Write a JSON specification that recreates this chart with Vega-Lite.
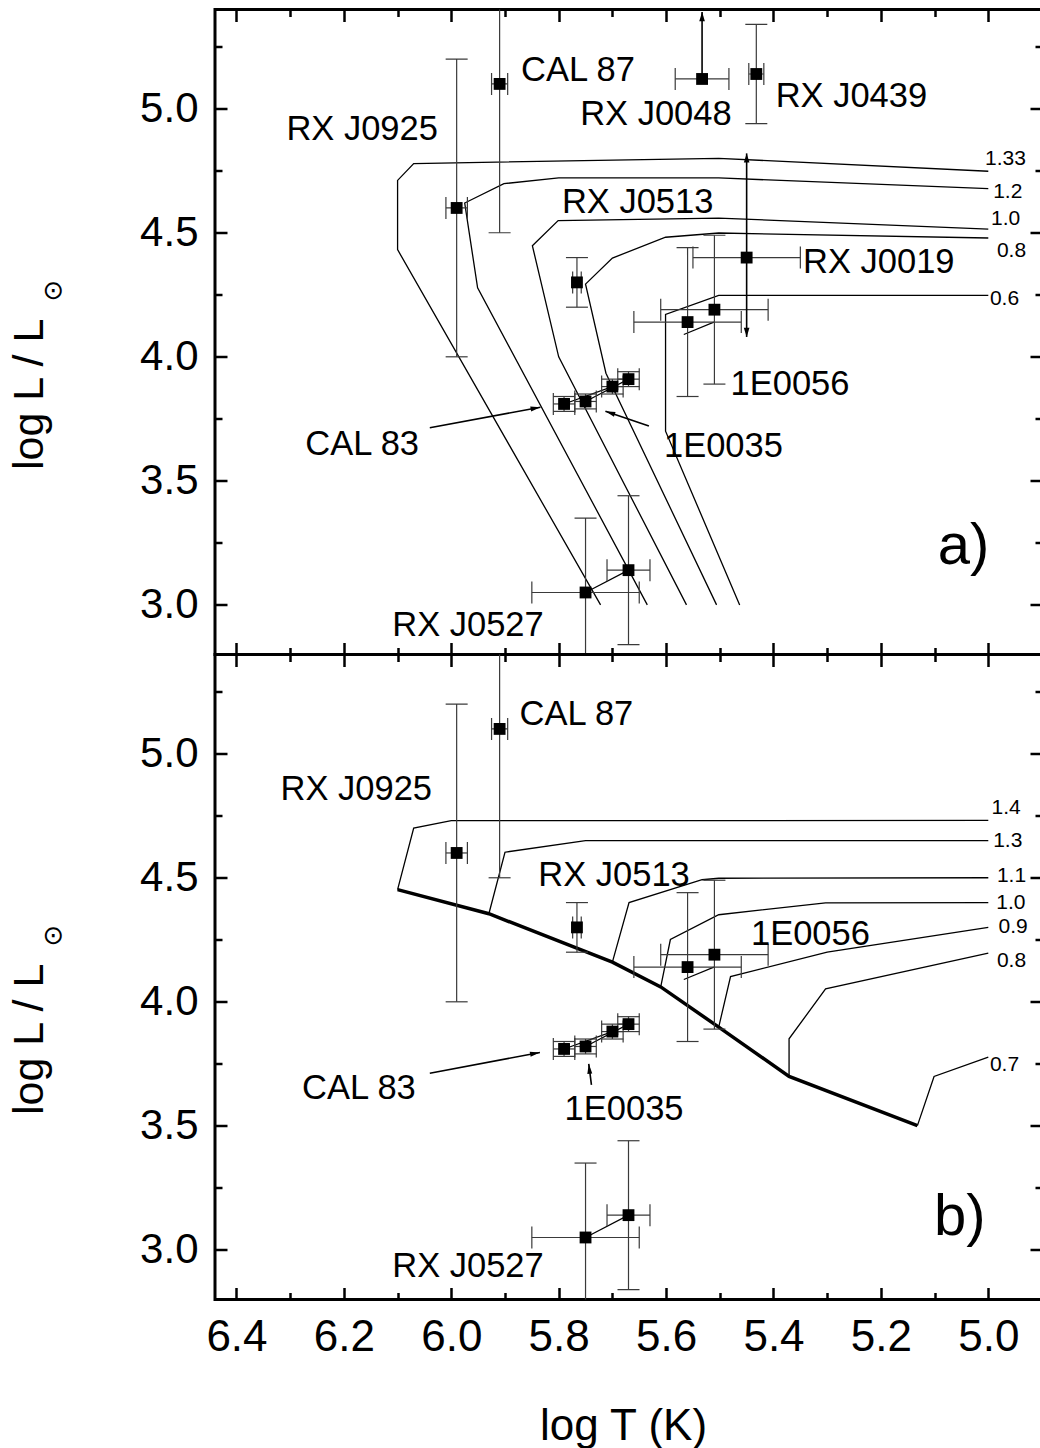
{
  "$schema": "https://vega.github.io/schema/vega-lite/v6.json",
  "autosize": {"type": "pad"},
  "padding": {"left": 6, "top": 6.5, "right": 0, "bottom": 0},
  "background": "white",
  "bounds": "flush",
  "spacing": 0,
  "config": {
    "font": "Liberation Sans",
    "view": {"stroke": "black", "strokeWidth": 3},
    "axis": {
      "domain": false, "grid": false, "tickColor": "black", "tickWidth": 2.5, "tickSize": 0,
      "labelFont": "Liberation Sans", "titleFont": "Liberation Sans", "labelColor": "black", "titleColor": "black",
      "titleFontWeight": "normal", "labelFlush": false, "labelOverlap": false, "labelBound": false
    }
  },
  "datasets": {
    "tracks": [
      {"panel":"a","track":"1.33","T":5.722,"L":3.0},{"panel":"a","track":"1.33","T":6.10,"L":4.432},{"panel":"a","track":"1.33","T":6.10,"L":4.711},{"panel":"a","track":"1.33","T":6.07,"L":4.779},{"panel":"a","track":"1.33","T":5.502,"L":4.80},{"panel":"a","track":"1.33","T":5.0,"L":4.748},
      {"panel":"a","track":"1.2","T":5.635,"L":3.0},{"panel":"a","track":"1.2","T":5.951,"L":4.278},{"panel":"a","track":"1.2","T":5.975,"L":4.62},{"panel":"a","track":"1.2","T":5.902,"L":4.698},{"panel":"a","track":"1.2","T":5.80,"L":4.721},{"panel":"a","track":"1.2","T":5.502,"L":4.721},{"panel":"a","track":"1.2","T":5.0,"L":4.678},
      {"panel":"a","track":"1.0","T":5.562,"L":3.0},{"panel":"a","track":"1.0","T":5.80,"L":4.0},{"panel":"a","track":"1.0","T":5.849,"L":4.448},{"panel":"a","track":"1.0","T":5.801,"L":4.549},{"panel":"a","track":"1.0","T":5.502,"L":4.559},{"panel":"a","track":"1.0","T":5.0,"L":4.515},
      {"panel":"a","track":"0.8","T":5.506,"L":3.0},{"panel":"a","track":"0.8","T":5.712,"L":3.934},{"panel":"a","track":"0.8","T":5.75,"L":4.293},{"panel":"a","track":"0.8","T":5.70,"L":4.398},{"panel":"a","track":"0.8","T":5.601,"L":4.482},{"panel":"a","track":"0.8","T":5.502,"L":4.499},{"panel":"a","track":"0.8","T":5.0,"L":4.479},
      {"panel":"a","track":"0.6","T":5.463,"L":3.0},{"panel":"a","track":"0.6","T":5.601,"L":3.70},{"panel":"a","track":"0.6","T":5.601,"L":4.171},{"panel":"a","track":"0.6","T":5.502,"L":4.248},{"panel":"a","track":"0.6","T":5.0,"L":4.248},
      {"panel":"b","track":"1.4","T":6.10,"L":4.452},{"panel":"b","track":"1.4","T":6.07,"L":4.70},{"panel":"b","track":"1.4","T":6.0,"L":4.73},{"panel":"b","track":"1.4","T":5.0,"L":4.731},
      {"panel":"b","track":"1.3","T":5.93,"L":4.355},{"panel":"b","track":"1.3","T":5.90,"L":4.603},{"panel":"b","track":"1.3","T":5.75,"L":4.65},{"panel":"b","track":"1.3","T":5.0,"L":4.65},
      {"panel":"b","track":"1.1","T":5.70,"L":4.16},{"panel":"b","track":"1.1","T":5.669,"L":4.40},{"panel":"b","track":"1.1","T":5.533,"L":4.492},{"panel":"b","track":"1.1","T":5.502,"L":4.498},{"panel":"b","track":"1.1","T":5.0,"L":4.50},
      {"panel":"b","track":"1.0","T":5.61,"L":4.06},{"panel":"b","track":"1.0","T":5.592,"L":4.251},{"panel":"b","track":"1.0","T":5.502,"L":4.351},{"panel":"b","track":"1.0","T":5.303,"L":4.399},{"panel":"b","track":"1.0","T":5.0,"L":4.40},
      {"panel":"b","track":"0.9","T":5.502,"L":3.898},{"panel":"b","track":"0.9","T":5.48,"L":4.102},{"panel":"b","track":"0.9","T":5.30,"L":4.20},{"panel":"b","track":"0.9","T":5.0,"L":4.30},
      {"panel":"b","track":"0.8","T":5.371,"L":3.699},{"panel":"b","track":"0.8","T":5.371,"L":3.851},{"panel":"b","track":"0.8","T":5.303,"L":4.052},{"panel":"b","track":"0.8","T":5.0,"L":4.196},
      {"panel":"b","track":"0.7","T":5.132,"L":3.501},{"panel":"b","track":"0.7","T":5.101,"L":3.699},{"panel":"b","track":"0.7","T":5.0,"L":3.777}
    ],
    "zams": [
      {"panel":"b","T":6.10,"L":4.452},{"panel":"b","T":5.93,"L":4.355},{"panel":"b","T":5.70,"L":4.16},{"panel":"b","T":5.61,"L":4.06},{"panel":"b","T":5.502,"L":3.898},{"panel":"b","T":5.371,"L":3.699},{"panel":"b","T":5.132,"L":3.501}
    ],
    "links": [
      {"panel":"a","id":"e56","T":5.567,"L":4.09},{"panel":"a","id":"e56","T":5.511,"L":4.14},
      {"panel":"a","id":"c83","T":5.79,"L":3.81},{"panel":"a","id":"c83","T":5.70,"L":3.88},
      {"panel":"a","id":"e35","T":5.75,"L":3.82},{"panel":"a","id":"e35","T":5.67,"L":3.91},
      {"panel":"a","id":"r527","T":5.75,"L":3.05},{"panel":"a","id":"r527","T":5.67,"L":3.14},
      {"panel":"b","id":"e56","T":5.567,"L":4.09},{"panel":"b","id":"e56","T":5.511,"L":4.14},
      {"panel":"b","id":"c83","T":5.79,"L":3.81},{"panel":"b","id":"c83","T":5.70,"L":3.88},
      {"panel":"b","id":"e35","T":5.75,"L":3.82},{"panel":"b","id":"e35","T":5.67,"L":3.91},
      {"panel":"b","id":"r527","T":5.75,"L":3.05},{"panel":"b","id":"r527","T":5.67,"L":3.14}
    ],
    "pts": [
      {"panel":"a","name":"CAL 87","T":5.91,"L":5.1,"Tlo":5.925,"Thi":5.895,"Llo":4.5,"Lhi":5.7},
      {"panel":"a","name":"RX J0925","T":5.99,"L":4.6,"Tlo":6.01,"Thi":5.97,"Llo":4.0,"Lhi":5.2},
      {"panel":"a","name":"RX J0048","T":5.533,"L":5.12,"Tlo":5.583,"Thi":5.483,"Llo":null,"Lhi":null},
      {"panel":"a","name":"RX J0439","T":5.432,"L":5.14,"Tlo":5.446,"Thi":5.418,"Llo":4.94,"Lhi":5.34},
      {"panel":"a","name":"RX J0019","T":5.45,"L":4.4,"Tlo":5.55,"Thi":5.35,"Llo":null,"Lhi":null},
      {"panel":"a","name":"1E0056","T":5.51,"L":4.19,"Tlo":5.61,"Thi":5.41,"Llo":3.89,"Lhi":4.49},
      {"panel":"a","name":"1E0056","T":5.56,"L":4.14,"Tlo":5.66,"Thi":5.46,"Llo":3.84,"Lhi":4.44},
      {"panel":"a","name":"RX J0513","T":5.766,"L":4.3,"Tlo":5.774,"Thi":5.758,"Llo":4.2,"Lhi":4.4},
      {"panel":"a","name":"CAL 83","T":5.79,"L":3.81,"Tlo":5.81,"Thi":5.77,"Llo":3.78,"Lhi":3.84},
      {"panel":"a","name":"1E0035","T":5.75,"L":3.82,"Tlo":5.77,"Thi":5.73,"Llo":3.79,"Lhi":3.85},
      {"panel":"a","name":"CAL 83","T":5.70,"L":3.88,"Tlo":5.72,"Thi":5.68,"Llo":3.85,"Lhi":3.91},
      {"panel":"a","name":"1E0035","T":5.67,"L":3.91,"Tlo":5.69,"Thi":5.65,"Llo":3.88,"Lhi":3.94},
      {"panel":"a","name":"RX J0527","T":5.75,"L":3.05,"Tlo":5.85,"Thi":5.65,"Llo":2.75,"Lhi":3.35},
      {"panel":"a","name":"RX J0527","T":5.67,"L":3.14,"Tlo":5.71,"Thi":5.63,"Llo":2.84,"Lhi":3.44},
      {"panel":"b","name":"CAL 87","T":5.91,"L":5.1,"Tlo":5.925,"Thi":5.895,"Llo":4.5,"Lhi":5.7},
      {"panel":"b","name":"RX J0925","T":5.99,"L":4.6,"Tlo":6.01,"Thi":5.97,"Llo":4.0,"Lhi":5.2},
      {"panel":"b","name":"1E0056","T":5.51,"L":4.19,"Tlo":5.61,"Thi":5.41,"Llo":3.89,"Lhi":4.49},
      {"panel":"b","name":"1E0056","T":5.56,"L":4.14,"Tlo":5.66,"Thi":5.46,"Llo":3.84,"Lhi":4.44},
      {"panel":"b","name":"RX J0513","T":5.766,"L":4.3,"Tlo":5.774,"Thi":5.758,"Llo":4.2,"Lhi":4.4},
      {"panel":"b","name":"CAL 83","T":5.79,"L":3.81,"Tlo":5.81,"Thi":5.77,"Llo":3.78,"Lhi":3.84},
      {"panel":"b","name":"1E0035","T":5.75,"L":3.82,"Tlo":5.77,"Thi":5.73,"Llo":3.79,"Lhi":3.85},
      {"panel":"b","name":"CAL 83","T":5.70,"L":3.88,"Tlo":5.72,"Thi":5.68,"Llo":3.85,"Lhi":3.91},
      {"panel":"b","name":"1E0035","T":5.67,"L":3.91,"Tlo":5.69,"Thi":5.65,"Llo":3.88,"Lhi":3.94},
      {"panel":"b","name":"RX J0527","T":5.75,"L":3.05,"Tlo":5.85,"Thi":5.65,"Llo":2.75,"Lhi":3.35},
      {"panel":"b","name":"RX J0527","T":5.67,"L":3.14,"Tlo":5.71,"Thi":5.63,"Llo":2.84,"Lhi":3.44}
    ],
    "arrows": [
      {"panel":"a","T1":5.533,"L1":5.12,"T2":5.533,"L2":5.39},
      {"panel":"a","T1":5.45,"L1":4.08,"T2":5.45,"L2":4.82},
      {"panel":"a","T1":6.04,"L1":3.714,"T2":5.834,"L2":3.797},
      {"panel":"a","T1":5.632,"L1":3.721,"T2":5.713,"L2":3.781},
      {"panel":"b","T1":6.04,"L1":3.712,"T2":5.835,"L2":3.796},
      {"panel":"b","T1":5.739,"L1":3.665,"T2":5.744,"L2":3.75}
    ],
    "heads": [
      {"panel":"a","dir":"up","T":5.533,"L":5.39},
      {"panel":"a","dir":"up","T":5.45,"L":4.82},
      {"panel":"a","dir":"down","T":5.45,"L":4.08},
      {"panel":"a","dir":"cal83","T":5.834,"L":3.797},
      {"panel":"b","dir":"cal83","T":5.835,"L":3.796},
      {"panel":"a","dir":"e35a","T":5.713,"L":3.781},
      {"panel":"b","dir":"e35b","T":5.744,"L":3.75}
    ],
    "names": [
      {"panel":"a","text":"CAL 87","T":5.870,"L":5.110},
      {"panel":"a","text":"RX J0048","T":5.760,"L":4.933},
      {"panel":"a","text":"RX J0439","T":5.396,"L":5.005},
      {"panel":"a","text":"RX J0925","T":6.307,"L":4.875},
      {"panel":"a","text":"RX J0513","T":5.794,"L":4.580},
      {"panel":"a","text":"RX J0019","T":5.345,"L":4.338},
      {"panel":"a","text":"1E0056","T":5.480,"L":3.846},
      {"panel":"a","text":"1E0035","T":5.604,"L":3.596},
      {"panel":"a","text":"CAL 83","T":6.272,"L":3.604},
      {"panel":"a","text":"RX J0527","T":6.110,"L":2.875},
      {"panel":"b","text":"CAL 87","T":5.873,"L":5.114},
      {"panel":"b","text":"RX J0925","T":6.318,"L":4.812},
      {"panel":"b","text":"RX J0513","T":5.838,"L":4.465},
      {"panel":"b","text":"1E0056","T":5.442,"L":4.231},
      {"panel":"b","text":"CAL 83","T":6.278,"L":3.609},
      {"panel":"b","text":"1E0035","T":5.789,"L":3.524},
      {"panel":"b","text":"RX J0527","T":6.110,"L":2.889}
    ],
    "mass": [
      {"panel":"a","text":"1.33","T":5.006,"L":4.796},
      {"panel":"a","text":"1.2","T":4.991,"L":4.663},
      {"panel":"a","text":"1.0","T":4.995,"L":4.556},
      {"panel":"a","text":"0.8","T":4.984,"L":4.427},
      {"panel":"a","text":"0.6","T":4.997,"L":4.234},
      {"panel":"b","text":"1.4","T":4.994,"L":4.783},
      {"panel":"b","text":"1.3","T":4.991,"L":4.647},
      {"panel":"b","text":"1.1","T":4.984,"L":4.506},
      {"panel":"b","text":"1.0","T":4.985,"L":4.398},
      {"panel":"b","text":"0.9","T":4.981,"L":4.30},
      {"panel":"b","text":"0.8","T":4.984,"L":4.163},
      {"panel":"b","text":"0.7","T":4.997,"L":3.746}
    ],
    "letters": [
      {"panel":"a","text":"a)","T":5.094,"L":3.164},
      {"panel":"b","text":"b)","T":5.101,"L":3.058}
    ]
  },
  "vconcat": [
    {
      "width": 827, "height": 645,
      "resolve": {"axis": {"x": "independent", "y": "independent"}},
      "layer": [
        {
          "data": {"name": "tracks"}, "transform": [{"filter": "datum.panel=='a'"}],
          "mark": {"type": "line", "color": "black", "strokeWidth": 1.3},
          "encoding": {
            "x": {"field": "T", "type": "quantitative", "scale": {"domain": [4.9, 6.44], "reverse": true, "nice": false, "zero": false},
              "axis": {"orient": "bottom", "values": [4.9,5,5.1,5.2,5.3,5.4,5.5,5.6,5.7,5.8,5.9,6,6.1,6.2,6.3,6.4], "labels": false, "title": null,
                "encoding": {"ticks": {"y2": {"condition": {"test": "abs(datum.value*5-round(datum.value*5))<0.01", "value": -12}, "value": -7}}}}},
            "y": {"field": "L", "type": "quantitative", "scale": {"domain": [2.8, 5.4], "nice": false, "zero": false},
              "axis": {"orient": "left", "values": [3,3.25,3.5,3.75,4,4.25,4.5,4.75,5,5.25],
                "labelExpr": "abs(datum.value*2-round(datum.value*2))<0.01 ? format(datum.value,'.1f') : ''",
                "labelFontSize": 42, "labelPadding": 17,
                "title": "log L / L", "titleFontSize": 43, "titleAngle": 270, "titleAlign": "left", "titleBaseline": "alphabetic", "titleX": -173, "titleY": 460,
                "encoding": {"ticks": {"x2": {"condition": {"test": "abs(datum.value*2-round(datum.value*2))<0.01", "value": 12}, "value": 7}}}}},
            "detail": {"field": "track"},
            "order": {"value": null}
          }
        },
        {
          "data": {"name": "links"}, "transform": [{"filter": "datum.panel=='a'"}],
          "mark": {"type": "line", "color": "black", "strokeWidth": 1.2},
          "encoding": {
            "x": {"field": "T", "type": "quantitative", "scale": {"domain": [4.9, 6.44], "reverse": true, "nice": false, "zero": false},
              "axis": {"orient": "top", "values": [4.9,5,5.1,5.2,5.3,5.4,5.5,5.6,5.7,5.8,5.9,6,6.1,6.2,6.3,6.4], "labels": false, "title": null,
                "encoding": {"ticks": {"y2": {"condition": {"test": "abs(datum.value*5-round(datum.value*5))<0.01", "value": 12}, "value": 7}}}}},
            "y": {"field": "L", "type": "quantitative", "scale": {"domain": [2.8, 5.4], "nice": false, "zero": false},
              "axis": {"orient": "right", "values": [3,3.25,3.5,3.75,4,4.25,4.5,4.75,5,5.25], "labels": false,
                "title": "⊙", "titleFont": "DejaVu Sans", "titleFontSize": 26, "titleAngle": 0, "titleAlign": "center", "titleBaseline": "middle", "titleX": -989, "titleY": 281,
                "encoding": {"ticks": {"x2": {"condition": {"test": "abs(datum.value*2-round(datum.value*2))<0.01", "value": -12}, "value": -7}}}}},
            "detail": {"field": "id"},
            "order": {"value": null}
          }
        },
        {
          "data": {"name": "pts"}, "transform": [{"filter": "datum.panel=='a' && isValid(datum.Llo)"}],
          "mark": {"type": "rule", "color": "#3a3a3a", "strokeWidth": 1.2, "clip": true},
          "encoding": {
            "x": {"field": "T", "type": "quantitative", "axis": null},
            "y": {"field": "Llo", "type": "quantitative", "axis": null},
            "y2": {"field": "Lhi"}
          }
        },
        {
          "data": {"name": "pts"}, "transform": [{"filter": "datum.panel=='a'"}],
          "mark": {"type": "rule", "color": "#3a3a3a", "strokeWidth": 1.2, "clip": true},
          "encoding": {
            "x": {"field": "Tlo", "type": "quantitative", "axis": null},
            "x2": {"field": "Thi"},
            "y": {"field": "L", "type": "quantitative", "axis": null}
          }
        },
        {
          "data": {"name": "pts"}, "transform": [{"filter": "datum.panel=='a' && isValid(datum.Llo)"}],
          "mark": {"type": "tick", "orient": "horizontal", "size": 22, "thickness": 1.2, "color": "#3a3a3a", "opacity": 1, "clip": true},
          "encoding": {
            "x": {"field": "T", "type": "quantitative", "axis": null},
            "y": {"field": "Llo", "type": "quantitative", "axis": null}
          }
        },
        {
          "data": {"name": "pts"}, "transform": [{"filter": "datum.panel=='a' && isValid(datum.Lhi)"}],
          "mark": {"type": "tick", "orient": "horizontal", "size": 22, "thickness": 1.2, "color": "#3a3a3a", "opacity": 1, "clip": true},
          "encoding": {
            "x": {"field": "T", "type": "quantitative", "axis": null},
            "y": {"field": "Lhi", "type": "quantitative", "axis": null}
          }
        },
        {
          "data": {"name": "pts"}, "transform": [{"filter": "datum.panel=='a'"}],
          "mark": {"type": "tick", "orient": "vertical", "size": 22, "thickness": 1.2, "color": "#3a3a3a", "opacity": 1, "clip": true},
          "encoding": {
            "x": {"field": "Tlo", "type": "quantitative", "axis": null},
            "y": {"field": "L", "type": "quantitative", "axis": null}
          }
        },
        {
          "data": {"name": "pts"}, "transform": [{"filter": "datum.panel=='a'"}],
          "mark": {"type": "tick", "orient": "vertical", "size": 22, "thickness": 1.2, "color": "#3a3a3a", "opacity": 1, "clip": true},
          "encoding": {
            "x": {"field": "Thi", "type": "quantitative", "axis": null},
            "y": {"field": "L", "type": "quantitative", "axis": null}
          }
        },
        {
          "data": {"name": "arrows"}, "transform": [{"filter": "datum.panel=='a'"}],
          "mark": {"type": "rule", "color": "black", "strokeWidth": 1.6},
          "encoding": {
            "x": {"field": "T1", "type": "quantitative", "axis": null},
            "y": {"field": "L1", "type": "quantitative", "axis": null},
            "x2": {"field": "T2"},
            "y2": {"field": "L2"}
          }
        },
        {
          "data": {"name": "heads"}, "transform": [{"filter": "datum.panel=='a' && datum.dir=='up'"}],
          "mark": {"type": "point", "shape": "M0,0L-0.4,1.3L0.4,1.3Z", "size": 200, "filled": true, "color": "black", "opacity": 1},
          "encoding": {
            "x": {"field": "T", "type": "quantitative", "axis": null},
            "y": {"field": "L", "type": "quantitative", "axis": null}
          }
        },
        {
          "data": {"name": "heads"}, "transform": [{"filter": "datum.panel=='a' && datum.dir=='down'"}],
          "mark": {"type": "point", "shape": "M0,0L-0.4,-1.3L0.4,-1.3Z", "size": 200, "filled": true, "color": "black", "opacity": 1},
          "encoding": {
            "x": {"field": "T", "type": "quantitative", "axis": null},
            "y": {"field": "L", "type": "quantitative", "axis": null}
          }
        },
        {
          "data": {"name": "heads"}, "transform": [{"filter": "datum.panel=='a' && datum.dir=='cal83'"}],
          "mark": {"type": "point", "shape": "M0,0L-0.35,1.4L0.35,1.4Z", "size": 200, "angle": 79.4, "filled": true, "color": "black", "opacity": 1},
          "encoding": {
            "x": {"field": "T", "type": "quantitative", "axis": null},
            "y": {"field": "L", "type": "quantitative", "axis": null}
          }
        },
        {
          "data": {"name": "heads"}, "transform": [{"filter": "datum.panel=='a' && datum.dir=='e35a'"}],
          "mark": {"type": "point", "shape": "M0,0L-0.35,1.4L0.35,1.4Z", "size": 200, "angle": 289, "filled": true, "color": "black", "opacity": 1},
          "encoding": {
            "x": {"field": "T", "type": "quantitative", "axis": null},
            "y": {"field": "L", "type": "quantitative", "axis": null}
          }
        },
        {
          "data": {"name": "pts"}, "transform": [{"filter": "datum.panel=='a'"}],
          "mark": {"type": "point", "shape": "square", "size": 140, "filled": true, "color": "black", "opacity": 1},
          "encoding": {
            "x": {"field": "T", "type": "quantitative", "axis": null},
            "y": {"field": "L", "type": "quantitative", "axis": null}
          }
        },
        {
          "data": {"name": "names"}, "transform": [{"filter": "datum.panel=='a'"}],
          "mark": {"type": "text", "align": "left", "baseline": "alphabetic", "font": "Liberation Sans", "fontSize": 34.5, "color": "black"},
          "encoding": {
            "x": {"field": "T", "type": "quantitative", "axis": null},
            "y": {"field": "L", "type": "quantitative", "axis": null},
            "text": {"field": "text"}
          }
        },
        {
          "data": {"name": "mass"}, "transform": [{"filter": "datum.panel=='a'"}],
          "mark": {"type": "text", "align": "left", "baseline": "middle", "font": "Liberation Sans", "fontSize": 21, "color": "black"},
          "encoding": {
            "x": {"field": "T", "type": "quantitative", "axis": null},
            "y": {"field": "L", "type": "quantitative", "axis": null},
            "text": {"field": "text"}
          }
        },
        {
          "data": {"name": "letters"}, "transform": [{"filter": "datum.panel=='a'"}],
          "mark": {"type": "text", "align": "left", "baseline": "alphabetic", "font": "Liberation Sans", "fontSize": 58, "color": "black"},
          "encoding": {
            "x": {"field": "T", "type": "quantitative", "axis": null},
            "y": {"field": "L", "type": "quantitative", "axis": null},
            "text": {"field": "text"}
          }
        }
      ]
    },
    {
      "width": 827, "height": 645,
      "resolve": {"axis": {"x": "independent", "y": "independent"}},
      "layer": [
        {
          "data": {"name": "tracks"}, "transform": [{"filter": "datum.panel=='b'"}],
          "mark": {"type": "line", "color": "black", "strokeWidth": 1.3},
          "encoding": {
            "x": {"field": "T", "type": "quantitative", "scale": {"domain": [4.9, 6.44], "reverse": true, "nice": false, "zero": false},
              "axis": {"orient": "bottom", "values": [4.9,5,5.1,5.2,5.3,5.4,5.5,5.6,5.7,5.8,5.9,6,6.1,6.2,6.3,6.4],
                "labelExpr": "abs(datum.value*5-round(datum.value*5))<0.01 ? format(datum.value,'.1f') : ''",
                "labelFontSize": 44, "labelPadding": 16,
                "title": "log T (K)", "titleFontSize": 44, "titleX": 408, "titleY": 140, "titleBaseline": "alphabetic", "titleAlign": "center", "titleAngle": 0,
                "encoding": {"ticks": {"y2": {"condition": {"test": "abs(datum.value*5-round(datum.value*5))<0.01", "value": -12}, "value": -7}}}}},
            "y": {"field": "L", "type": "quantitative", "scale": {"domain": [2.8, 5.4], "nice": false, "zero": false},
              "axis": {"orient": "left", "values": [3,3.25,3.5,3.75,4,4.25,4.5,4.75,5,5.25],
                "labelExpr": "abs(datum.value*2-round(datum.value*2))<0.01 ? format(datum.value,'.1f') : ''",
                "labelFontSize": 42, "labelPadding": 17,
                "title": "log L / L", "titleFontSize": 43, "titleAngle": 270, "titleAlign": "left", "titleBaseline": "alphabetic", "titleX": -173, "titleY": 460,
                "encoding": {"ticks": {"x2": {"condition": {"test": "abs(datum.value*2-round(datum.value*2))<0.01", "value": 12}, "value": 7}}}}},
            "detail": {"field": "track"},
            "order": {"value": null}
          }
        },
        {
          "data": {"name": "zams"}, "transform": [{"filter": "datum.panel=='b'"}],
          "mark": {"type": "line", "color": "black", "strokeWidth": 3.5},
          "encoding": {
            "x": {"field": "T", "type": "quantitative", "axis": null},
            "y": {"field": "L", "type": "quantitative", "axis": null},
            "order": {"value": null}
          }
        },
        {
          "data": {"name": "links"}, "transform": [{"filter": "datum.panel=='b'"}],
          "mark": {"type": "line", "color": "black", "strokeWidth": 1.2},
          "encoding": {
            "x": {"field": "T", "type": "quantitative", "scale": {"domain": [4.9, 6.44], "reverse": true, "nice": false, "zero": false},
              "axis": {"orient": "top", "values": [4.9,5,5.1,5.2,5.3,5.4,5.5,5.6,5.7,5.8,5.9,6,6.1,6.2,6.3,6.4], "labels": false, "title": null,
                "encoding": {"ticks": {"y2": {"condition": {"test": "abs(datum.value*5-round(datum.value*5))<0.01", "value": 12}, "value": 7}}}}},
            "y": {"field": "L", "type": "quantitative", "scale": {"domain": [2.8, 5.4], "nice": false, "zero": false},
              "axis": {"orient": "right", "values": [3,3.25,3.5,3.75,4,4.25,4.5,4.75,5,5.25], "labels": false,
                "title": "⊙", "titleFont": "DejaVu Sans", "titleFontSize": 26, "titleAngle": 0, "titleAlign": "center", "titleBaseline": "middle", "titleX": -989, "titleY": 281,
                "encoding": {"ticks": {"x2": {"condition": {"test": "abs(datum.value*2-round(datum.value*2))<0.01", "value": -12}, "value": -7}}}}},
            "detail": {"field": "id"},
            "order": {"value": null}
          }
        },
        {
          "data": {"name": "pts"}, "transform": [{"filter": "datum.panel=='b' && isValid(datum.Llo)"}],
          "mark": {"type": "rule", "color": "#3a3a3a", "strokeWidth": 1.2, "clip": true},
          "encoding": {
            "x": {"field": "T", "type": "quantitative", "axis": null},
            "y": {"field": "Llo", "type": "quantitative", "axis": null},
            "y2": {"field": "Lhi"}
          }
        },
        {
          "data": {"name": "pts"}, "transform": [{"filter": "datum.panel=='b'"}],
          "mark": {"type": "rule", "color": "#3a3a3a", "strokeWidth": 1.2, "clip": true},
          "encoding": {
            "x": {"field": "Tlo", "type": "quantitative", "axis": null},
            "x2": {"field": "Thi"},
            "y": {"field": "L", "type": "quantitative", "axis": null}
          }
        },
        {
          "data": {"name": "pts"}, "transform": [{"filter": "datum.panel=='b' && isValid(datum.Llo)"}],
          "mark": {"type": "tick", "orient": "horizontal", "size": 22, "thickness": 1.2, "color": "#3a3a3a", "opacity": 1, "clip": true},
          "encoding": {
            "x": {"field": "T", "type": "quantitative", "axis": null},
            "y": {"field": "Llo", "type": "quantitative", "axis": null}
          }
        },
        {
          "data": {"name": "pts"}, "transform": [{"filter": "datum.panel=='b' && isValid(datum.Lhi)"}],
          "mark": {"type": "tick", "orient": "horizontal", "size": 22, "thickness": 1.2, "color": "#3a3a3a", "opacity": 1, "clip": true},
          "encoding": {
            "x": {"field": "T", "type": "quantitative", "axis": null},
            "y": {"field": "Lhi", "type": "quantitative", "axis": null}
          }
        },
        {
          "data": {"name": "pts"}, "transform": [{"filter": "datum.panel=='b'"}],
          "mark": {"type": "tick", "orient": "vertical", "size": 22, "thickness": 1.2, "color": "#3a3a3a", "opacity": 1, "clip": true},
          "encoding": {
            "x": {"field": "Tlo", "type": "quantitative", "axis": null},
            "y": {"field": "L", "type": "quantitative", "axis": null}
          }
        },
        {
          "data": {"name": "pts"}, "transform": [{"filter": "datum.panel=='b'"}],
          "mark": {"type": "tick", "orient": "vertical", "size": 22, "thickness": 1.2, "color": "#3a3a3a", "opacity": 1, "clip": true},
          "encoding": {
            "x": {"field": "Thi", "type": "quantitative", "axis": null},
            "y": {"field": "L", "type": "quantitative", "axis": null}
          }
        },
        {
          "data": {"name": "arrows"}, "transform": [{"filter": "datum.panel=='b'"}],
          "mark": {"type": "rule", "color": "black", "strokeWidth": 1.6},
          "encoding": {
            "x": {"field": "T1", "type": "quantitative", "axis": null},
            "y": {"field": "L1", "type": "quantitative", "axis": null},
            "x2": {"field": "T2"},
            "y2": {"field": "L2"}
          }
        },
        {
          "data": {"name": "heads"}, "transform": [{"filter": "datum.panel=='b' && datum.dir=='cal83'"}],
          "mark": {"type": "point", "shape": "M0,0L-0.35,1.4L0.35,1.4Z", "size": 200, "angle": 79.4, "filled": true, "color": "black", "opacity": 1},
          "encoding": {
            "x": {"field": "T", "type": "quantitative", "axis": null},
            "y": {"field": "L", "type": "quantitative", "axis": null}
          }
        },
        {
          "data": {"name": "heads"}, "transform": [{"filter": "datum.panel=='b' && datum.dir=='e35b'"}],
          "mark": {"type": "point", "shape": "M0,0L-0.35,1.4L0.35,1.4Z", "size": 200, "angle": 354, "filled": true, "color": "black", "opacity": 1},
          "encoding": {
            "x": {"field": "T", "type": "quantitative", "axis": null},
            "y": {"field": "L", "type": "quantitative", "axis": null}
          }
        },
        {
          "data": {"name": "pts"}, "transform": [{"filter": "datum.panel=='b'"}],
          "mark": {"type": "point", "shape": "square", "size": 140, "filled": true, "color": "black", "opacity": 1},
          "encoding": {
            "x": {"field": "T", "type": "quantitative", "axis": null},
            "y": {"field": "L", "type": "quantitative", "axis": null}
          }
        },
        {
          "data": {"name": "names"}, "transform": [{"filter": "datum.panel=='b'"}],
          "mark": {"type": "text", "align": "left", "baseline": "alphabetic", "font": "Liberation Sans", "fontSize": 34.5, "color": "black"},
          "encoding": {
            "x": {"field": "T", "type": "quantitative", "axis": null},
            "y": {"field": "L", "type": "quantitative", "axis": null},
            "text": {"field": "text"}
          }
        },
        {
          "data": {"name": "mass"}, "transform": [{"filter": "datum.panel=='b'"}],
          "mark": {"type": "text", "align": "left", "baseline": "middle", "font": "Liberation Sans", "fontSize": 21, "color": "black"},
          "encoding": {
            "x": {"field": "T", "type": "quantitative", "axis": null},
            "y": {"field": "L", "type": "quantitative", "axis": null},
            "text": {"field": "text"}
          }
        },
        {
          "data": {"name": "letters"}, "transform": [{"filter": "datum.panel=='b'"}],
          "mark": {"type": "text", "align": "left", "baseline": "alphabetic", "font": "Liberation Sans", "fontSize": 58, "color": "black"},
          "encoding": {
            "x": {"field": "T", "type": "quantitative", "axis": null},
            "y": {"field": "L", "type": "quantitative", "axis": null},
            "text": {"field": "text"}
          }
        }
      ]
    }
  ]
}
